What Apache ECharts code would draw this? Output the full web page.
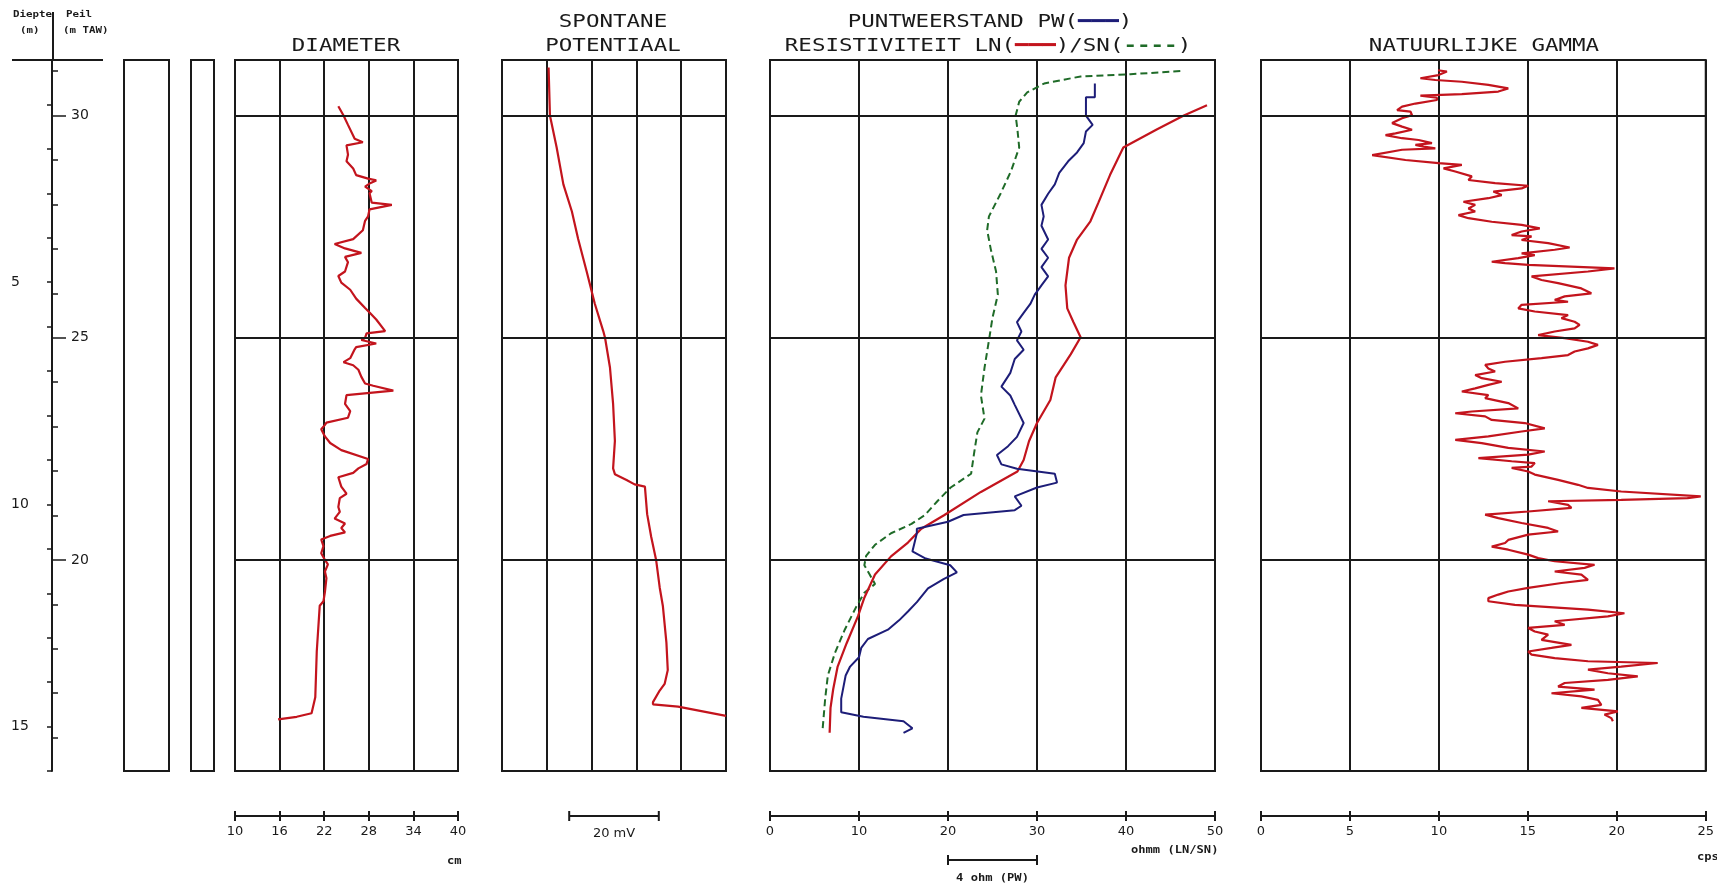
<!DOCTYPE html>
<html><head><meta charset="utf-8">
<script src="https://cdn.jsdelivr.net/npm/echarts@6/dist/echarts.min.js"></script>
<style>html,body{margin:0;padding:0;background:#fff}#c{width:1717px;height:885px}</style>
</head><body><div id="c"></div>
<script>
// ---------- data ----------
const SURFACE = 31.25;            // m TAW at depth 0
const DEPTH_MAX = 16;
const DEPTH_LABELS = [5, 10, 15];
const PEIL_LINES = [30, 25, 20];
const DIA_TICKS = [10, 40, 6];     // min, max, step (cm)
const RES_TICKS = [0, 50, 10];     // ohm.m LN/SN
const PW_RANGE = [0, 20];          // ohm, 4 ohm per division
const SP_RANGE = [0, 50];          // mV, 10 mV per division
const GAM_TICKS = [0, 25, 5];      // cps
const SP_BAR = [15, 35];           // 20 mV scale bar
const PW_BAR = [8, 12];            // 4 ohm scale bar

// [depth m, value]
const DIAMETER = [[1.04,23.9],[1.25,24.6],[1.46,25.2],[1.77,26.1],[1.85,27.2],[1.92,25.0],[2.13,25.2],[2.28,25.0],[2.44,25.9],[2.59,26.3],[2.67,27.9],[2.71,29.0],[2.78,28.1],[2.85,27.5],[2.95,28.4],[3.00,28.1],[3.21,28.4],[3.26,31.1],[3.36,28.1],[3.52,27.9],[3.62,27.5],[3.83,27.2],[4.03,25.9],[4.14,23.4],[4.24,24.8],[4.34,27.0],[4.43,24.8],[4.55,25.2],[4.76,24.8],[4.86,23.9],[5.01,24.3],[5.17,25.5],[5.37,26.3],[5.58,27.5],[5.68,28.1],[5.84,29.0],[6.10,30.2],[6.15,27.7],[6.25,27.5],[6.30,27.0],[6.38,29.0],[6.46,26.3],[6.51,26.1],[6.71,25.5],[6.80,24.6],[6.87,25.9],[6.97,26.6],[7.13,27.0],[7.28,27.5],[7.33,28.6],[7.44,31.3],[7.54,25.0],[7.74,24.8],[7.90,25.5],[8.05,25.2],[8.16,22.3],[8.21,22.1],[8.31,21.6],[8.47,22.1],[8.62,22.8],[8.78,24.3],[8.98,27.9],[9.09,27.7],[9.19,26.6],[9.29,25.9],[9.39,23.9],[9.60,24.3],[9.76,25.0],[9.86,24.1],[10.06,23.9],[10.17,24.1],[10.32,23.4],[10.43,24.8],[10.53,24.3],[10.63,24.8],[10.71,22.8],[10.79,21.6],[10.94,21.9],[11.10,21.6],[11.25,22.1],[11.35,22.5],[11.51,22.1],[11.66,22.3],[11.97,22.1],[12.18,21.9],[12.28,21.4],[13.31,21.0],[14.34,20.8],[14.70,20.3],[14.78,18.3],[14.84,15.8]];

const SP = [[0.17,10.4],[1.25,10.7],[1.97,12.2],[2.80,13.7],[3.41,15.6],[4.03,17.0],[4.76,18.9],[5.48,20.7],[6.10,22.6],[6.25,23.0],[6.92,24.1],[7.74,24.8],[8.57,25.2],[9.19,24.8],[9.32,25.2],[9.45,27.8],[9.55,29.6],[9.60,31.9],[10.22,32.4],[10.73,33.3],[11.25,34.4],[11.87,35.2],[12.28,35.9],[13.11,36.7],[13.73,37.0],[14.04,36.3],[14.19,35.2],[14.45,33.7],[14.50,33.7],[14.55,39.3],[14.76,50]];

const LN = [[1.02,49.1],[1.25,46.5],[1.56,43.5],[1.97,39.7],[2.59,38.2],[3.21,36.9],[3.63,36.0],[4.04,34.5],[4.45,33.6],[5.07,33.2],[5.59,33.4],[5.90,34.1],[6.24,34.9],[6.62,33.8],[7.14,32.1],[7.65,31.5],[8.17,30.0],[8.58,29.1],[9.00,28.5],[9.26,27.8],[9.72,23.7],[10.24,19.6],[10.55,17.0],[10.86,15.5],[11.17,13.6],[11.58,11.8],[12.10,10.6],[12.51,9.9],[13.13,8.6],[13.65,7.6],[14.16,7.1],[14.58,6.8],[15.14,6.7]];

const SN = [[0.25,46.1],[0.32,40.5],[0.37,34.9],[0.53,30.8],[0.73,28.9],[0.94,28.0],[1.25,27.6],[1.56,27.8],[1.97,28.0],[2.49,27.1],[3.01,25.9],[3.52,24.6],[3.83,24.4],[4.25,24.8],[4.76,25.4],[5.28,25.6],[5.80,25.0],[6.31,24.6],[6.93,24.1],[7.55,23.7],[8.07,24.1],[8.38,23.3],[8.89,22.9],[9.31,22.6],[9.62,20.3],[9.93,18.8],[10.24,17.4],[10.44,15.9],[10.65,13.6],[10.91,11.8],[11.16,10.8],[11.37,10.6],[11.58,11.2],[11.79,11.8],[11.99,10.6],[12.30,9.7],[12.82,8.4],[13.34,7.3],[13.85,6.5],[14.37,6.2],[15.09,5.9]];

const PW = [[0.53,14.6],[0.84,14.6],[0.84,14.2],[1.25,14.2],[1.46,14.5],[1.61,14.2],[1.87,14.1],[2.08,13.8],[2.28,13.4],[2.54,13.0],[2.80,12.8],[3.01,12.5],[3.26,12.2],[3.52,12.3],[3.73,12.2],[4.04,12.5],[4.25,12.2],[4.45,12.5],[4.66,12.2],[4.87,12.5],[5.07,12.2],[5.28,11.9],[5.49,11.7],[5.69,11.4],[5.90,11.1],[6.11,11.3],[6.31,11.1],[6.52,11.4],[6.73,11.0],[7.04,10.8],[7.35,10.4],[7.55,10.8],[7.76,11.0],[8.17,11.4],[8.48,11.1],[8.69,10.7],[8.89,10.2],[9.10,10.4],[9.20,11.1],[9.31,12.8],[9.51,12.9],[9.62,12.0],[9.82,11.0],[10.03,11.3],[10.13,11.0],[10.24,8.7],[10.39,8.0],[10.55,6.6],[10.65,6.6],[11.06,6.4],[11.22,7.0],[11.37,8.1],[11.53,8.4],[11.68,7.8],[11.89,7.1],[12.20,6.6],[12.41,6.2],[12.61,5.8],[12.82,5.3],[13.03,4.4],[13.23,4.1],[13.44,4.0],[13.65,3.6],[13.85,3.4],[14.37,3.2],[14.68,3.2],[14.78,4.2],[14.88,6.0],[15.04,6.4],[15.14,6.0]];

const GAMMA = [[0.23,9.95],[0.26,10.45],[0.34,9.98],[0.41,8.96],[0.45,9.80],[0.49,11.29],[0.56,12.78],[0.64,13.90],[0.71,13.34],[0.77,11.29],[0.80,8.96],[0.85,9.89],[0.90,9.89],[0.98,8.68],[1.05,7.93],[1.13,7.65],[1.16,8.40],[1.24,8.49],[1.31,7.93],[1.42,7.37],[1.50,7.93],[1.57,8.49],[1.65,7.56],[1.69,7.0],[1.76,7.93],[1.80,8.86],[1.87,9.61],[1.91,8.68],[1.95,9.14],[1.99,9.80],[2.02,7.93],[2.14,6.25],[2.17,6.16],[2.25,8.12],[2.32,9.98],[2.36,11.29],[2.44,10.26],[2.51,10.92],[2.62,11.85],[2.70,11.66],[2.77,13.16],[2.83,15.02],[2.89,14.65],[2.96,13.06],[3.04,13.53],[3.11,12.78],[3.19,11.38],[3.26,12.04],[3.34,11.66],[3.41,12.04],[3.49,11.10],[3.56,11.66],[3.64,12.97],[3.71,14.65],[3.79,15.67],[3.86,14.65],[3.94,14.09],[3.97,15.21],[4.05,14.65],[4.12,16.14],[4.22,17.35],[4.27,16.51],[4.35,14.65],[4.39,15.39],[4.46,14.46],[4.54,12.97],[4.57,13.72],[4.61,15.02],[4.69,19.87],[4.76,18.38],[4.87,15.21],[4.95,15.77],[5.02,16.70],[5.14,18.01],[5.25,18.57],[5.32,17.07],[5.40,16.51],[5.44,17.26],[5.51,14.65],[5.59,14.46],[5.66,15.39],[5.74,17.26],[5.81,16.89],[5.89,17.63],[5.96,17.91],[6.04,17.63],[6.11,16.51],[6.19,15.58],[6.26,17.07],[6.34,18.38],[6.41,18.94],[6.49,18.38],[6.56,17.63],[6.64,17.26],[6.71,15.77],[6.79,13.72],[6.86,12.60],[6.94,12.78],[7.01,13.16],[7.09,12.04],[7.16,12.41],[7.24,13.53],[7.31,12.78],[7.39,12.04],[7.46,11.29],[7.54,12.78],[7.61,12.60],[7.72,13.90],[7.84,14.46],[7.91,11.85],[7.95,10.92],[8.02,12.60],[8.10,12.97],[8.17,14.83],[8.29,15.95],[8.36,14.65],[8.47,12.78],[8.55,10.92],[8.62,12.41],[8.73,13.90],[8.81,15.95],[8.88,15.02],[8.96,12.22],[9.03,14.09],[9.07,15.39],[9.15,15.21],[9.18,14.09],[9.26,15.02],[9.33,15.39],[9.45,16.70],[9.56,17.82],[9.63,18.38],[9.71,20.25],[9.82,24.72],[9.86,23.98],[9.90,20.25],[9.93,16.14],[10.01,17.26],[10.08,17.45],[10.16,15.02],[10.23,12.60],[10.31,13.34],[10.42,14.65],[10.53,16.14],[10.61,16.70],[10.68,15.02],[10.80,13.90],[10.87,13.72],[10.95,12.97],[11.02,13.90],[11.13,15.02],[11.21,15.58],[11.28,16.51],[11.36,18.75],[11.43,18.19],[11.51,16.51],[11.58,18.01],[11.70,18.38],[11.77,16.89],[11.88,15.02],[11.96,13.90],[12.03,13.34],[12.11,12.78],[12.18,12.78],[12.26,14.27],[12.37,18.38],[12.45,20.43],[12.52,19.50],[12.63,16.51],[12.71,17.07],[12.78,15.02],[12.86,15.39],[12.93,16.14],[13.05,15.77],[13.16,17.45],[13.23,16.33],[13.31,15.02],[13.38,15.21],[13.46,16.51],[13.53,18.38],[13.57,22.30],[13.65,20.25],[13.72,18.38],[13.80,19.50],[13.87,21.18],[13.95,19.50],[14.02,17.07],[14.10,16.70],[14.17,18.75],[14.25,16.33],[14.32,18.01],[14.40,18.94],[14.51,19.13],[14.58,18.01],[14.66,20.06],[14.73,19.31],[14.81,19.69],[14.88,19.78]];

// ---------- layout / style ----------
const TOP = 60, H = 711, PXM = H / DEPTH_MAX, SCALE_OFF = 45;
const RED = '#c3141d', BLUE = '#1d1d78', GREEN = '#1f6b28', INK = '#1a1a1a';
const MONO = "'DejaVu Sans Mono', 'Liberation Mono', monospace";
const SANS = "'DejaVu Sans', 'Liberation Sans', sans-serif";

const trackGrid = (left, width) => ({left, width, top: TOP, height: H, show: true,
  borderColor: INK, borderWidth: 2, backgroundColor: 'transparent'});
const peilGrid = (lo, hi) => ({left: 53, width: 1, top: TOP + (SURFACE - hi) * PXM, height: (hi - lo) * PXM, show: false});

const grids = [
  trackGrid(124, 45), trackGrid(191, 23), trackGrid(235, 223),
  trackGrid(502, 224), trackGrid(770, 445), trackGrid(1261, 445),
  {left: 52, width: 1, top: TOP, height: H, show: false},
  peilGrid(16, 31), peilGrid(20, 30)
];

const split = {show: true, lineStyle: {color: INK, width: 2}};
const scaleAxis = (gi, t) => ({gridIndex: gi, type: 'value', min: t[0], max: t[1], interval: t[2],
  position: 'bottom', offset: SCALE_OFF,
  axisLine: {show: true, onZero: false, lineStyle: {color: INK, width: 2}},
  axisTick: {show: true, length: 5, lineStyle: {color: INK, width: 2}},
  axisLabel: {show: true, margin: 9, fontSize: 13, color: INK, fontFamily: SANS},
  splitLine: split});
const dupTicks = (gi, t) => ({gridIndex: gi, type: 'value', min: t[0], max: t[1], interval: t[2],
  position: 'bottom', offset: SCALE_OFF,
  axisLine: {show: false, onZero: false}, axisTick: {show: true, inside: true, length: 5, lineStyle: {color: INK, width: 2}},
  axisLabel: {show: false}, splitLine: {show: false}});
const hiddenX = gi => ({gridIndex: gi, type: 'value', min: 0, max: 1, show: false});

const xAxis = [
  hiddenX(0), hiddenX(1),
  scaleAxis(2, DIA_TICKS), dupTicks(2, DIA_TICKS),                          // 2,3
  {gridIndex: 3, type: 'value', min: SP_RANGE[0], max: SP_RANGE[1], interval: 10,
   axisLine: {show: false}, axisTick: {show: false}, axisLabel: {show: false}, splitLine: split}, // 4
  scaleAxis(4, RES_TICKS), dupTicks(4, RES_TICKS),                          // 5,6
  {gridIndex: 4, type: 'value', min: PW_RANGE[0], max: PW_RANGE[1], show: false}, // 7
  scaleAxis(5, GAM_TICKS), dupTicks(5, GAM_TICKS),                          // 8,9
  hiddenX(6), hiddenX(7), hiddenX(8)
];

const depthY = gi => ({gridIndex: gi, type: 'value', min: 0, max: DEPTH_MAX, inverse: true, show: false});
const yAxis = [
  depthY(0), depthY(1), depthY(2), depthY(3), depthY(4), depthY(5),
  {gridIndex: 6, type: 'value', min: 0, max: DEPTH_MAX, interval: 1, inverse: true, position: 'left',
   axisLine: {show: true, onZero: false, lineStyle: {color: INK, width: 2}},
   axisTick: {show: true, length: 5, lineStyle: {color: INK, width: 1.5}},
   axisLabel: {show: true, align: 'left', margin: 41, fontSize: 14, color: INK, fontFamily: SANS,
     formatter: v => DEPTH_LABELS.includes(v) ? String(v) : ''},
   splitLine: {show: false}},
  {gridIndex: 7, type: 'value', min: 16, max: 31, interval: 1, position: 'left',
   axisLine: {show: false, onZero: false}, axisTick: {show: true, inside: true, length: 5, lineStyle: {color: INK, width: 1.5}},
   axisLabel: {show: false}, splitLine: {show: false}},
  {gridIndex: 8, type: 'value', min: 20, max: 30, interval: 5, position: 'left',
   axisLine: {show: false, onZero: false}, axisTick: {show: true, inside: true, length: 13, lineStyle: {color: INK, width: 1.5}},
   axisLabel: {show: true, inside: true, align: 'left', margin: 18, fontSize: 14, color: INK, fontFamily: SANS},
   splitLine: {show: false}}
];

const peilMark = {silent: true, symbol: ['none', 'none'], label: {show: false},
  lineStyle: {color: INK, width: 2, type: 'solid'}, emphasis: {disabled: true},
  data: PEIL_LINES.map(p => ({yAxis: SURFACE - p}))};

const curve = (name, data, xi, yi, color, extra) => Object.assign({
  name, type: 'line', xAxisIndex: xi, yAxisIndex: yi, showSymbol: false, symbol: 'none',
  silent: true, animation: false, data: data.map(([d, v]) => [v, d]),
  lineStyle: {color, width: 2.2}, z: 3}, extra || {});

const series = [
  curve('Diameter', DIAMETER, 2, 2, RED, {markLine: peilMark}),
  curve('SP', SP, 4, 3, RED, {markLine: peilMark}),
  curve('SN', SN, 5, 4, GREEN, {lineStyle: {color: GREEN, width: 2, type: [7, 4]}, markLine: peilMark}),
  curve('LN', LN, 5, 4, RED),
  curve('PW', PW, 7, 4, BLUE, {lineStyle: {color: BLUE, width: 2}}),
  curve('Gamma', GAMMA, 8, 5, RED, {markLine: peilMark})
];

const chart = echarts.init(document.getElementById('c'));
chart.setOption({animation: false, backgroundColor: '#fff', grid: grids, xAxis, yAxis, series});

// ---------- header / scale annotations ----------
const txt = (x, y, text, opt) => Object.assign({type: 'text', x, y, silent: true,
  style: Object.assign({text, fill: INK, font: `18px ${MONO}`, textAlign: 'center', textVerticalAlign: 'middle'}, (opt && opt.style) || {})},
  opt ? {scaleX: opt.scaleX || 1} : {});
const line = (x1, y1, x2, y2, w) => ({type: 'line', silent: true, shape: {x1, y1, x2, y2}, style: {stroke: INK, lineWidth: w || 2}});
const bar = (a, b, y) => [line(a, y, b, y, 2), line(a, y - 5, a, y + 5, 2), line(b, y - 5, b, y + 5, 2)];

const px = (ax, v) => chart.convertToPixel({xAxisIndex: ax}, v);
const spA = px(4, SP_BAR[0]), spB = px(4, SP_BAR[1]);
const pwA = px(7, PW_BAR[0]), pwB = px(7, PW_BAR[1]);
const T = 1.25;
const small = {style: {font: `bold 9px ${MONO}`, textAlign: 'left'}, scaleX: 1.2};
const unit = {style: {font: `bold 11px ${MONO}`, textAlign: 'left'}, scaleX: 1.1};

const graphic = [
  line(53, 12, 53, TOP, 2), line(12, TOP, 103, TOP, 2),
  txt(13, 15, 'Diepte', small), txt(66, 15, 'Peil', small),
  txt(20, 31, '(m)', small), txt(63, 31, '(m TAW)', small),
  txt(346, 46, 'DIAMETER', {scaleX: T}),
  txt(613, 22, 'SPONTANE', {scaleX: T}),
  txt(613, 46, 'POTENTIAAL', {scaleX: T}),
  txt(990, 22, 'PUNTWEERSTAND PW({pw|━━━})', {scaleX: T, style: {rich: {pw: {fill: BLUE, font: `bold 18px ${MONO}`}}}}),
  txt(988, 46, 'RESISTIVITEIT LN({ln|━━━})/SN({sn|----})', {scaleX: T, style: {rich: {
    ln: {fill: RED, font: `bold 18px ${MONO}`}, sn: {fill: GREEN, font: `bold 18px ${MONO}`}}}}),
  txt(1484, 46, 'NATUURLIJKE GAMMA', {scaleX: T}),
  txt(447, 861, 'cm', unit),
  ...bar(spA, spB, TOP + H + SCALE_OFF),
  txt((spA + spB) / 2, 834, '20 mV', {style: {font: `13px ${SANS}`}}),
  txt(1131, 850, 'ohmm (LN/SN)', unit),
  ...bar(pwA, pwB, 860),
  txt((pwA + pwB) / 2, 878, '4 ohm (PW)', {style: {font: `bold 11px ${MONO}`}, scaleX: 1.1}),
  txt(1697, 857, 'cps', unit)
];
chart.setOption({graphic});
</script></body></html>
